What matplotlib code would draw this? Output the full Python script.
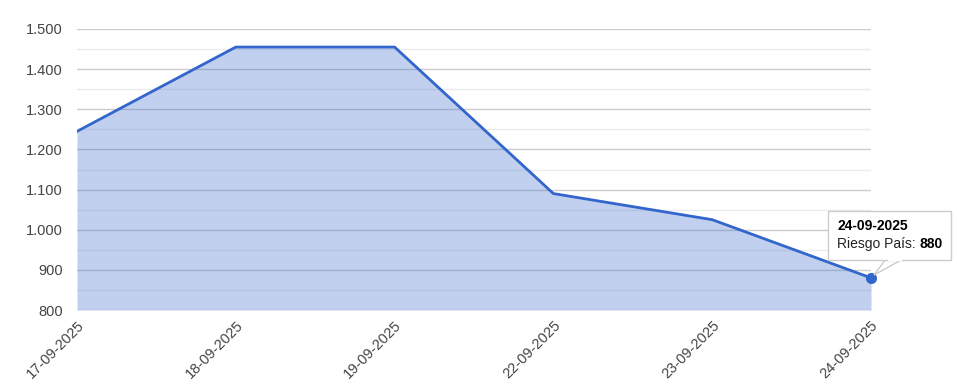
import matplotlib

matplotlib.use("Agg")
import matplotlib.pyplot as plt
from matplotlib.patches import FancyBboxPatch, Polygon
from matplotlib.ticker import FuncFormatter, MultipleLocator

plt.rcParams["font.family"] = ["Liberation Sans", "DejaVu Sans"]

fechas = ["17-09-2025", "18-09-2025", "19-09-2025", "22-09-2025", "23-09-2025", "24-09-2025"]
riesgo_pais = [1245, 1455, 1455, 1090, 1025, 880]
y_ticks = [800, 900, 1000, 1100, 1200, 1300, 1400, 1500]

LINE = "#3366cc"

W, H = 957, 385
fig = plt.figure(figsize=(W / 100, H / 100), dpi=100)
# plot area in pixels: x 77..871, y 29..310
ax = fig.add_axes([77 / W, 1 - 310 / H, (871 - 77) / W, (310 - 29) / H])

x = list(range(len(fechas)))
ax.fill_between(x, riesgo_pais, 800, color=LINE, alpha=0.3, lw=0, zorder=2)
ax.plot(x, riesgo_pais, color=LINE, lw=2, zorder=3, solid_joinstyle="round")
ax.plot(x[-1], riesgo_pais[-1], "o", color=LINE, ms=7, zorder=4, clip_on=False)

ax.set_xlim(0, len(fechas) - 1)
ax.set_ylim(800, 1500)
ax.set_yticks(y_ticks)
ax.yaxis.set_major_formatter(FuncFormatter(lambda v, _: f"{int(v):,}".replace(",", ".")))
ax.yaxis.set_minor_locator(MultipleLocator(50))
ax.set_xticks(x)
ax.set_xticklabels(fechas, rotation=45, ha="right", rotation_mode="anchor")

ax.grid(True, which="major", axis="y", color="#cccccc", lw=1, zorder=1)
ax.grid(True, which="minor", axis="y", color="#ebebeb", lw=1, zorder=1)
ax.set_axisbelow(True)
for s in ax.spines.values():
    s.set_visible(False)
ax.tick_params(axis="both", which="both", length=0, labelsize=10.5, labelcolor="#444444")
ax.tick_params(axis="y", pad=10)
ax.tick_params(axis="x", pad=6)

# tooltip
bx0, by0, bx1, by1 = 828, 211, 951, 260
tail = Polygon([[886 / W, 1 - (by1 - 1) / H], [874 / W, 1 - 275 / H], [903 / W, 1 - (by1 - 1) / H]],
               closed=True, transform=fig.transFigure, facecolor="white",
               edgecolor="#cccccc", lw=1, zorder=10)
fig.patches.append(tail)
box = FancyBboxPatch((bx0 / W, 1 - by1 / H), (bx1 - bx0) / W, (by1 - by0) / H,
                     boxstyle="square,pad=0", transform=fig.transFigure,
                     facecolor="white", edgecolor="#cccccc", lw=1, zorder=11)
fig.patches.append(box)
# white strip hides the box edge where the tail joins
cover = Polygon([[887.5 / W, 1 - by1 / H], [901.5 / W, 1 - by1 / H]], closed=False,
                transform=fig.transFigure, edgecolor="white", lw=1.5, zorder=12)
fig.patches.append(cover)
fig.text(837 / W, 1 - 226 / H, fechas[-1], fontsize=10, fontweight="bold",
         color="black", va="center", ha="left", zorder=13)
t = fig.text(837 / W, 1 - 244 / H, "Riesgo País: ", fontsize=10, color="#222222",
             va="center", ha="left", zorder=13)
fig.canvas.draw()
bb = t.get_window_extent()
fig.text(bb.x1 / W, 1 - 244 / H, f"{riesgo_pais[-1]}", fontsize=10, fontweight="bold",
         color="black", va="center", ha="left", zorder=13)

fig.savefig("out.png", dpi=100)
